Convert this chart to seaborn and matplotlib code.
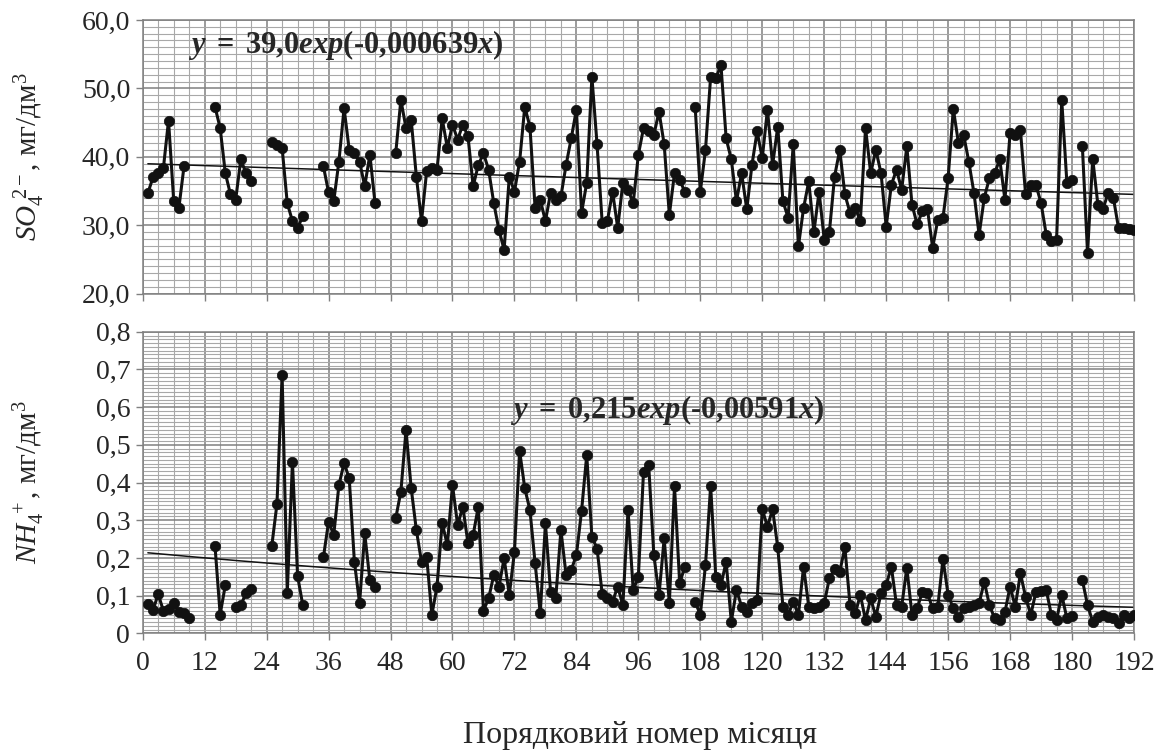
import numpy as np
import pandas as pd
import matplotlib
matplotlib.use('Agg')
import matplotlib.pyplot as plt
from matplotlib.ticker import MultipleLocator
import seaborn as sns

# Monthly values, month 1..192 (nan = no sample that month)
nan = np.nan
so4_values = [
    34.7, 37.0, 37.6, 38.3, 45.3, 33.6, 32.5, 38.6,
    nan, nan, nan, nan, nan,
    47.3, 44.2, 37.6, 34.5, 33.7, 39.6, 37.6, 36.4,
    nan, nan, nan,
    42.2, 41.7, 41.3, 33.2, 30.6, 29.6, 31.3,
    nan, nan, nan,
    38.6, 34.8, 33.5, 39.3, 47.1, 41.0, 40.5, 39.3, 35.7, 40.3, 33.2,
    nan, nan, nan,
    40.5, 48.3, 44.2, 45.4, 37.1, 30.6, 37.9, 38.4, 38.1, 45.6, 41.3, 44.7,
    42.5, 44.7, 43.0, 35.7, 38.8, 40.5, 38.1, 33.2, 29.3, 26.4, 37.1, 34.9,
    39.3, 47.3, 44.4, 32.5, 33.7, 30.6, 34.7, 33.7, 34.2, 38.8, 42.7, 46.9,
    31.8, 36.2, 51.7, 41.8, 30.3, 30.6, 34.9, 29.6, 36.2,
    35.2, 33.2, 40.3, 44.2, 43.8, 43.2, 46.6, 41.8, 31.5, 37.6, 36.6, 34.9,
    nan,
    47.3, 34.9, 41.0, 51.7, 51.5, 53.4, 42.7, 39.6, 33.5, 37.6, 32.3, 38.8,
    43.7, 39.8, 46.9, 38.8, 44.4, 33.5, 31.1, 41.8, 26.9, 32.5, 36.4, 29.0,
    34.9, 27.9, 29.0, 37.1, 41.0, 34.5, 31.8, 32.5, 30.6, 44.2,
    37.6, 41.0, 37.6, 29.8, 35.9, 38.1, 35.2, 41.5, 33.0, 30.1, 32.0, 32.3,
    26.7, 30.8, 31.1, 36.9, 47.0, 42.0, 43.2, 39.3, 34.7, 28.6, 34.0, 36.9,
    37.6, 39.6, 33.7, 43.5, 43.2, 43.9, 34.5, 35.9, 35.9, 33.2, 28.6, 27.7,
    27.9, 48.3, 36.2, 36.6,
    nan,
    41.5, 25.9, 39.7, 33.0, 32.4, 34.7, 34.0, 29.6, 29.6, 29.5, 29.3,
]
nh4_values = [
    0.078, 0.062, 0.104, 0.060, 0.065, 0.080, 0.057, 0.053, 0.042,
    nan, nan, nan, nan,
    0.232, 0.050, 0.128,
    nan,
    0.071, 0.075, 0.106, 0.117,
    nan, nan, nan,
    0.232, 0.343, 0.685, 0.108, 0.455, 0.152, 0.075,
    nan, nan, nan,
    0.202, 0.296, 0.261, 0.393, 0.452, 0.411, 0.190, 0.080, 0.265, 0.141, 0.122,
    nan, nan, nan,
    0.305, 0.376, 0.539, 0.385, 0.274, 0.190, 0.203, 0.049, 0.124, 0.293,
    0.234, 0.393, 0.287, 0.336, 0.239, 0.261, 0.336, 0.060, 0.093, 0.155,
    0.124, 0.199, 0.102, 0.216, 0.484, 0.385, 0.327, 0.186, 0.053, 0.292,
    0.110, 0.093, 0.274, 0.155, 0.168, 0.208, 0.325, 0.473, 0.256, 0.225,
    0.104, 0.093, 0.084, 0.124, 0.075, 0.327,
    0.115, 0.150, 0.429, 0.446, 0.208, 0.102, 0.252, 0.080, 0.391, 0.133, 0.177,
    nan,
    0.084, 0.049, 0.181, 0.391, 0.150, 0.128, 0.190, 0.031, 0.115, 0.071,
    0.057, 0.080, 0.088, 0.329, 0.283, 0.329, 0.228, 0.071, 0.049, 0.084,
    0.049, 0.177, 0.071, 0.066, 0.071, 0.080, 0.146, 0.170, 0.163, 0.228,
    0.075, 0.053, 0.102, 0.035,
    0.093, 0.044, 0.106, 0.128, 0.177, 0.075, 0.071, 0.174, 0.049, 0.066,
    0.110, 0.106, 0.066, 0.071, 0.197, 0.102, 0.066, 0.044, 0.066, 0.071,
    0.075, 0.080, 0.137, 0.075, 0.040, 0.035, 0.057, 0.124, 0.071, 0.159,
    0.097, 0.049, 0.110, 0.113, 0.115, 0.049, 0.035, 0.102, 0.040, 0.045,
    nan,
    0.141, 0.075, 0.031, 0.044, 0.049, 0.044, 0.040, 0.027, 0.049, 0.040, 0.049,
]
months = np.arange(1, len(so4_values) + 1)

# Exponential trend lines as printed on the chart: y = a*exp(b*x)
so4_fit = (39.0, -0.000639)
nh4_fit = (0.215, -0.00591)

x_ticks = list(range(0, 193, 12))
so4_ticks = [20, 30, 40, 50, 60]
so4_tick_labels = ['20,0', '30,0', '40,0', '50,0', '60,0']
nh4_ticks = [0, 0.1, 0.2, 0.3, 0.4, 0.5, 0.6, 0.7, 0.8]
nh4_tick_labels = ['0', '0,1', '0,2', '0,3', '0,4', '0,5', '0,6', '0,7', '0,8']


def to_frame(values):
    s = pd.Series(values, dtype=float)
    # break the line wherever a month is missing
    return pd.DataFrame({'month': months, 'value': s, 'seg': s.isna().cumsum()}).dropna()


# %%
sns.set_theme(style='white')
plt.rcParams['font.family'] = ['Liberation Serif', 'DejaVu Serif']
plt.rcParams['mathtext.fontset'] = 'custom'
plt.rcParams['mathtext.rm'] = 'Liberation Serif'
plt.rcParams['mathtext.it'] = 'Liberation Serif:italic'
plt.rcParams['mathtext.bf'] = 'Liberation Serif:bold'
plt.rcParams['mathtext.bfit'] = 'Liberation Serif:italic:bold'

fig = plt.figure(figsize=(11.65, 7.54), dpi=100)
ax_top = fig.add_axes([0.1225, 0.6107, 0.8509, 0.3628])
ax_bot = fig.add_axes([0.1225, 0.1600, 0.8509, 0.4000])

panels = [
    (ax_top, so4_values, so4_fit, so4_ticks, so4_tick_labels, 1, (20, 60)),
    (ax_bot, nh4_values, nh4_fit, nh4_ticks, nh4_tick_labels, 0.01, (0, 0.8)),
]
for ax, vals, fit, ticks, tick_labels, minor_step, ylim in panels:
    sns.lineplot(
        data=to_frame(vals), x='month', y='value', units='seg', estimator=None,
        ax=ax, color='#111111', linewidth=2.2, marker='o', markersize=7.5,
        markeredgecolor='#111111', markeredgewidth=0.5, legend=False, zorder=3)
    trend_x = np.arange(1, 193)
    ax.plot(trend_x, fit[0] * np.exp(fit[1] * trend_x), color='#111111', lw=1.1, zorder=2)

    ax.set_xlim(0, 192)
    ax.set_ylim(*ylim)
    ax.xaxis.set_major_locator(MultipleLocator(12))
    ax.xaxis.set_minor_locator(MultipleLocator(3))
    ax.set_yticks(ticks)
    ax.set_yticklabels(tick_labels)
    ax.yaxis.set_minor_locator(MultipleLocator(minor_step))
    ax.set_axisbelow(True)
    ax.grid(which='major', color='#808080', lw=1.1)
    ax.grid(which='minor', color='#a8a8a8', lw=0.8)
    ax.tick_params(which='major', direction='out', length=5, width=1, color='#808080',
                   labelsize=20, pad=4, left=True, bottom=True)
    ax.tick_params(which='minor', length=0)
    for sp in ax.spines.values():
        sp.set_color('#808080')
        sp.set_linewidth(1.1)
    ax.set_xlabel('')
    ax.set_ylabel('')

ax_top.tick_params(labelbottom=False)
ax_bot.set_xticks(x_ticks)
ax_bot.tick_params(axis='x', pad=8)

ax_top.set_ylabel(r'$SO_4^{\ 2-}$, мг/дм$^3$', fontsize=21)
ax_bot.set_ylabel(r'$NH_4^{\ +}$, мг/дм$^3$', fontsize=21)
ax_top.yaxis.set_label_coords(-0.097, 0.5)
ax_bot.yaxis.set_label_coords(-0.097, 0.5)

ax_top.text(8.8, 56.3, r'$\mathbfit{y}\mathbf{\ =\ 39{,}0}\mathbfit{exp}\mathbf{(}$-$\mathbf{0{,}000639}\mathbfit{x}\mathbf{)}$',
            fontsize=22, fontweight='bold', ha='left', va='center')
ax_bot.text(71.2, 0.592, r'$\mathbfit{y}\mathbf{\ =\ 0{,}215}\mathbfit{exp}\mathbf{(}$-$\mathbf{0{,}00591}\mathbfit{x}\mathbf{)}$',
            fontsize=22, fontweight='bold', ha='left', va='center')

fig.text(0.549, 0.025, 'Порядковий номер місяця', ha='center', va='center', fontsize=23)

fig.savefig('out.png', dpi=100)
